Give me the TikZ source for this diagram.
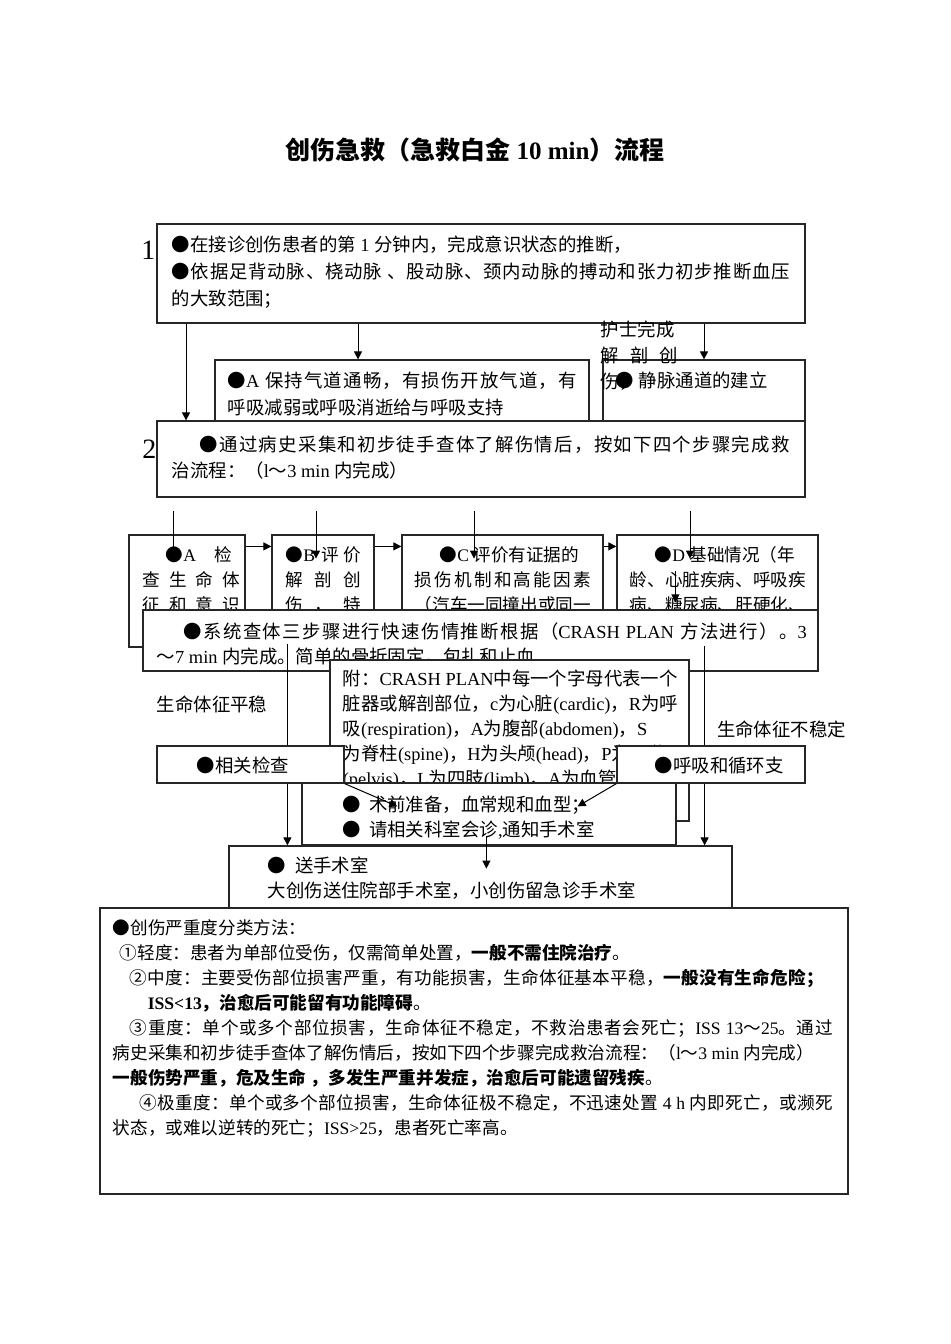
\documentclass[tikz,border=0pt]{standalone}
\usepackage{fontspec}
\setmainfont{Liberation Serif}
\newfontfamily\cjkfont{Noto Sans CJK SC}
\usetikzlibrary{arrows.meta,positioning,fit,calc}

% switch to the CJK face for Chinese characters and back for Latin
\XeTeXlinebreaklocale "zh"
\XeTeXlinebreakskip=0pt plus 1pt
\newXeTeXintercharclass\cjkclass
\newcount\cjkc
\def\setcjkrange#1#2{\cjkc=#1\relax
  \loop\XeTeXcharclass\cjkc=\cjkclass\relax
  \ifnum\cjkc<#2\relax\advance\cjkc by 1\relax\repeat}
\setcjkrange{"4E00}{"9FFF}
\setcjkrange{"3000}{"303F}
\setcjkrange{"FF00}{"FFEF}
\setcjkrange{"2460}{"24FF}
\setcjkrange{"25A0}{"25FF}
\XeTeXinterchartokenstate=1
\XeTeXinterchartoks 0 \cjkclass = {\cjkfont}
\XeTeXinterchartoks 4095 \cjkclass = {\cjkfont}
\XeTeXinterchartoks \cjkclass 0 = {\rmfamily}
\XeTeXinterchartoks \cjkclass 4095 = {\rmfamily}
\XeTeXinterchartoks \cjkclass \cjkclass = {\hskip 0pt plus 1pt\relax}

\newcommand{\spreadline}[2]{\makebox[#1][s]{#2}}

\tikzset{
  box/.style={draw=black!85, line width=0.6pt, fill=white, inner sep=0pt},
  boxtext/.style={anchor=north west, inner sep=0pt, align=left,
    font=\fontsize{9.2}{13.5}\selectfont},
  steptext/.style={boxtext, font=\fontsize{8.8}{12.5}\selectfont},
  notetext/.style={boxtext, font=\fontsize{9.2}{12.5}\selectfont},
  gradetext/.style={boxtext, font=\fontsize{8.8}{12.5}\selectfont},
  plaintext/.style={anchor=west, inner sep=0pt, font=\fontsize{9.2}{12}\selectfont},
  steplabel/.style={inner sep=0pt, font=\fontsize{14}{16}\selectfont},
  titletext/.style={inner sep=0pt, font=\fontsize{12.5}{15}\selectfont\bfseries},
  arr/.style={-{Triangle[length=4pt,width=4pt]}, line width=0.5pt},
  ln/.style={line width=0.5pt},
}

\begin{document}
\begin{tikzpicture}[x=0.5pt,y=-0.5pt]
  \useasboundingbox (0,0) rectangle (950,1344);
  \node[titletext] at (475,150) (title) {创伤急救（急救白金 10 min）流程};

  % step 1
  \node[box, fit={(157,224) (805,323)}] (s1) {};
  \node[boxtext] at ([shift={(15,12)}]s1.north west) (s1-text) {●在接诊创伤患者的第 1 分钟内，完成意识状态的推断，\\
    \spreadline{309pt}{●依据足背动脉、桡动脉 、股动脉、颈内动脉的搏动和张力初步推断血压}\\
    的大致范围；};
  \node[steplabel] at ([shift={(-8,27)}]s1.north west) (s1-num) {1};

  % airway and vein
  \node[box, fit={(215,360) (589,440)}] (airway) {};
  \node[boxtext] at ([shift={(13,12)}]airway.north west) (airway-text) {\spreadline{174.5pt}{●A 保持气道通畅，有损伤开放气道，有}\\
    呼吸减弱或呼吸消逝给与呼吸支持};
  \node[box, fit={(603,360) (805,440)}] (vein) {};
  \node[boxtext] at ([shift={(13,12)}]vein.north west) (vein-text) {● 静脉通道的建立};
  \node[boxtext, font=\fontsize{9.2}{13}\selectfont] at ([shift={(-2,-39)}]vein.north west) (nurse-text) {护士完成\\
    \makebox[38.5pt][s]{解\hfill 剖\hfill 创}\\
    伤，};

  % step 2
  \node[box, fit={(157,421) (805,497)}] (s2) {};
  \node[boxtext, font=\fontsize{9.2}{13}\selectfont] at ([shift={(15,15)}]s2.north west) (s2-text) {\hspace*{14pt}\spreadline{295pt}{●通过病史采集和初步徒手查体了解伤情后，按如下四个步骤完成救}\\
    治流程：（l～3 min 内完成）};
  \node[steplabel] at ([shift={(-7,29)}]s2.north west) (s2-num) {2};

  \draw[arr] (s1.south -| 186,0) -- (s2.north -| 186,0);
  \draw[arr] (s1.south -| 358,0) -- (airway.north -| 358,0);
  \draw[arr] (s1.south -| 704,0) -- (vein.north -| 704,0);

  % four steps
  \node[box, fit={(129,535) (245,647)}] (stepA) {};
  \node[steptext] at ([shift={(14,12)}]stepA.north west) (stepA-text) {\makebox[44.5pt][s]{\hspace*{11.5pt}●A\hfill 检}\\
    \makebox[48.5pt][s]{查\hfill 生\hfill 命\hfill 体}\\
    \makebox[48.5pt][s]{征\hfill 和\hfill 意\hfill 识}};
  \node[box, fit={(272,535) (374,660)}] (stepB) {};
  \node[steptext] at ([shift={(14,12)}]stepB.north west) (stepB-text) {\makebox[37.5pt][s]{●B\hfill 评\hspace{2pt}价}\\
    \makebox[37.5pt][s]{解\hfill 剖\hfill 创}\\
    \makebox[37.5pt][s]{伤\hfill ，\hfill 特}};
  \node[box, fit={(402,535) (603,660)}] (stepC) {};
  \node[steptext] at ([shift={(13,12)}]stepC.north west) (stepC-text) {\hspace*{12.5pt}●C 评价有证据的\\
    \spreadline{88pt}{损伤机制和高能因素}\\
    （汽车一同撞出或同一};
  \node[box, fit={(617,535) (818,660)}] (stepD) {};
  \node[steptext] at ([shift={(13,12)}]stepD.north west) (stepD-text) {\hspace*{12.5pt}●D 基础情况（年\\
    龄、心脏疾病、呼吸疾\\
    病、糖尿病、肝硬化、};

  \foreach \x in {173,316,474,690}
    \draw[arr] (s2.south -| \x,0) ++(0,13) -- ++(0,48);
  \draw[arr] ([yshift=-6pt]stepA.north east) -- ([yshift=-6pt]stepB.north west);
  \draw[arr] ([yshift=-6pt]stepB.north east) -- ([yshift=-6pt]stepC.north west);
  \draw[arr] ([yshift=-6pt]stepC.north east) -- ([yshift=-6pt]stepD.north west);
  \draw[arr] ([shift={(59,37)}]stepD.north west) -- ++(0,31);

  % CRASH PLAN
  \node[box, fit={(143,610) (818,671)}] (crash) {};
  \node[boxtext, font=\fontsize{9.2}{12.5}\selectfont] at ([shift={(14,13)}]crash.north west) (crash-text) {\hspace*{13.5pt}\spreadline{311.5pt}{●系统查体三步骤进行快速伤情推断根据（CRASH PLAN 方法进行）。3}\\
    ～7 min 内完成。简单的骨折固定，包扎和止血};
  \coordinate (stableL) at ([shift={(145,35)}]crash.north west);
  \coordinate (unstableR) at ([shift={(-114,37)}]crash.north east);

  \node[box, fit={(330,660) (689,821)}] (note) {};
  \node[notetext] at ([shift={(13,10)}]note.north west) (note-text) {附：CRASH PLAN中每一个字母代表一个\\
    脏器或解剖部位，c为心脏(cardic)，R为呼\\
    吸(respiration)，A为腹部(abdomen)，S\\
    为脊柱(spine)，H为头颅(head)，P为骨盆\\
    (pelvis)，L为四肢(limb)，A为血管};

  \node[plaintext] at ([shift={(14,33)}]crash.south west) (stable) {生命体征平稳};
  \node[plaintext] at ([shift={(-102,58)}]crash.south east) (unstable) {生命体征不稳定};

  \node[box, fit={(157,746) (344,783)}] (exam) {};
  \node[plaintext] at ([shift={(40,1)}]exam.west) (exam-text) {●相关检查};
  \node[box, fit={(617,746) (805,783)}] (support) {};
  \node[plaintext] at ([shift={(38,1)}]support.west) (support-text) {●呼吸和循环支};

  \node[box, fit={(302,783) (676,845)}] (prep) {};
  \node[boxtext, font=\fontsize{9.2}{12.5}\selectfont] at ([shift={(41,13)}]prep.north west) (prep-text) {●\hspace{4pt}术前准备，血常规和血型；\\
    ●\hspace{4pt}请相关科室会诊,通知手术室};

  \node[box, fit={(229,846) (732,930)}] (theatre) {};
  \node[boxtext, font=\fontsize{9.2}{12.5}\selectfont] at ([shift={(39,11)}]theatre.north west) (theatre-text) {●\hspace{4.5pt}送手术室\\
    大创伤送住院部手术室，小创伤留急诊手术室};

  % severity grades
  \node[box, fit={(100,908) (848,1194)}] (grade) {};
  \node[gradetext] at ([shift={(13,12)}]grade.north west) (grade-text) {●创伤严重度分类方法：\\
    \hspace*{3.5pt}①轻度：患者为单部位受伤，仅需简单处置，\textbf{一般不需住院治疗}。\\
    \hspace*{8.5pt}\spreadline{347pt}{②中度：主要受伤部位损害严重，有功能损害，生命体征基本平稳，\textbf{一般没有生命危险；}}\\
    \hspace*{17.5pt}\textbf{ISS<13，治愈后可能留有功能障碍}{\cjkfont 。}\\
    \hspace*{8.5pt}\spreadline{351.5pt}{③重度：单个或多个部位损害，生命体征不稳定，不救治患者会死亡；ISS 13～25。通过}\\
    病史采集和初步徒手查体了解伤情后，按如下四个步骤完成救治流程：（l～3 min 内完成）\\
    \textbf{一般伤势严重，危及生命 ，多发生严重并发症，治愈后可能遗留残疾}{\cjkfont 。}\\
    \hspace*{13.5pt}\spreadline{346.5pt}{④极重度：单个或多个部位损害，生命体征极不稳定，不迅速处置 4 h 内即死亡，或濒死}\\
    状态，或难以逆转的死亡；ISS>25，患者死亡率高。};

  % exits
  \draw[ln] (stableL) -- (stableL |- exam.north);
  \draw[arr] (stableL |- exam.south) -- (stableL |- theatre.north);
  \draw[ln] (unstableR) -- (unstableR |- support.north);
  \draw[arr] (unstableR |- support.south) -- (unstableR |- theatre.north);
  \draw[arr] (exam.south east) -- ([shift={(96,24)}]prep.north west);
  \draw[arr] (support.south west) -- ([shift={(-99,24)}]prep.north east);
  \draw[arr] ([shift={(185,-10)}]prep.south west) -- ++(0,33);
\end{tikzpicture}
\end{document}
